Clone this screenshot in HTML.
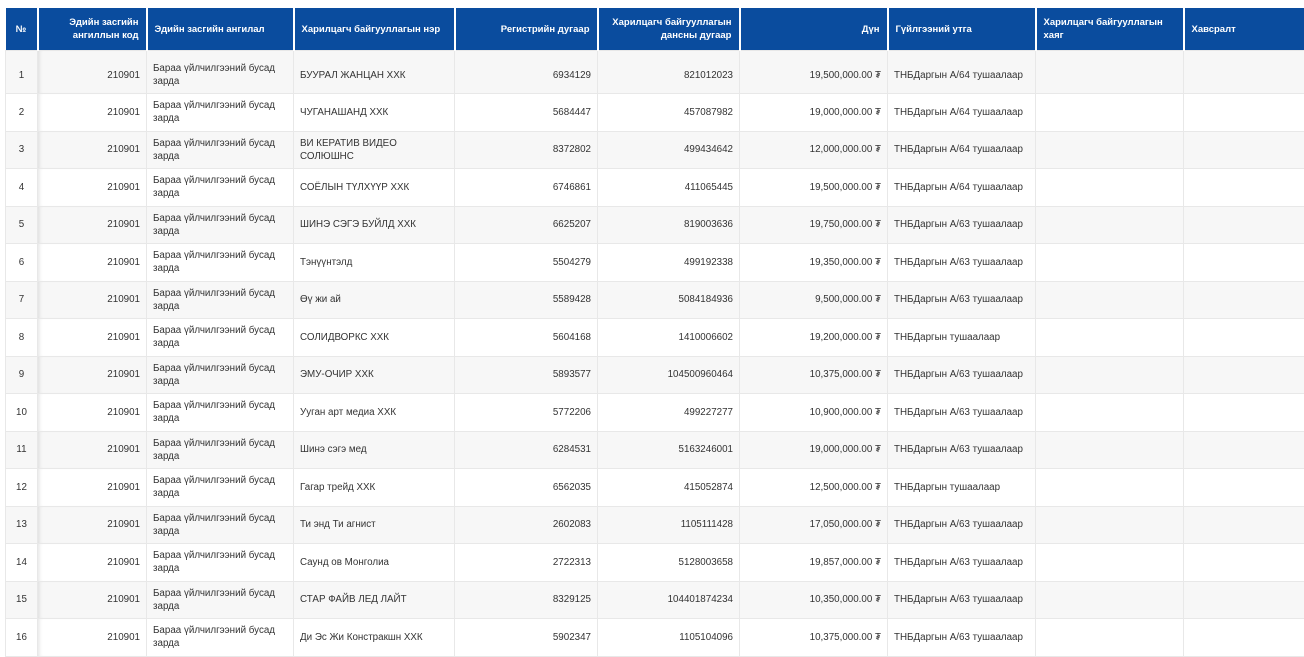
<!DOCTYPE html>
<html><head><meta charset="utf-8"><style>
html,body{margin:0;padding:0;background:#fff;width:1304px;height:642px;overflow:hidden}
table{position:absolute;left:5px;top:8px;border-collapse:collapse;table-layout:fixed;width:1305px;font-family:"Liberation Sans","DejaVu Sans",sans-serif;font-size:9.8px;color:#333}
th{background:#0a4c9e;color:#fff;font-weight:bold;height:42px;padding:0 7px;text-align:left;border-left:2px solid #fff;border-right:2px solid #fff;line-height:13px;font-size:9.5px}
th:first-child{border-left:none;text-align:center}
th.r,td.r{text-align:right}
td{border:1px solid #e8e8e8;padding:0 6px;height:36.5px;line-height:13px;vertical-align:middle}
tr.first td{height:36px;padding-top:6px}
tbody tr:nth-child(odd) td{background:#f7f7f7}
td:first-child{text-align:center;padding:0 4px}
tr.first td:first-child{padding-top:6px}
td:nth-child(2){box-shadow:inset 4px 0 4px -3px rgba(0,0,0,0.12)}
</style></head><body>
<table>
<colgroup><col style="width:32px"><col style="width:109px"><col style="width:147px"><col style="width:161px"><col style="width:143px"><col style="width:142px"><col style="width:148px"><col style="width:148px"><col style="width:148px"><col style="width:127px"></colgroup>
<thead><tr><th>№</th><th class="r">Эдийн засгийн ангиллын код</th><th>Эдийн засгийн ангилал</th><th>Харилцагч байгууллагын нэр</th><th class="r">Регистрийн дугаар</th><th class="r">Харилцагч байгууллагын дансны дугаар</th><th class="r">Дүн</th><th>Гүйлгээний утга</th><th>Харилцагч байгууллагын хаяг</th><th>Хавсралт</th></tr></thead>
<tbody>
<tr class="first"><td>1</td><td class="r">210901</td><td>Бараа үйлчилгээний бусад зарда</td><td>БУУРАЛ ЖАНЦАН ХХК</td><td class="r">6934129</td><td class="r">821012023</td><td class="r">19,500,000.00 ₮</td><td>ТНБДаргын А/64 тушаалаар</td><td></td><td></td></tr>
<tr><td>2</td><td class="r">210901</td><td>Бараа үйлчилгээний бусад зарда</td><td>ЧУГАНАШАНД ХХК</td><td class="r">5684447</td><td class="r">457087982</td><td class="r">19,000,000.00 ₮</td><td>ТНБДаргын А/64 тушаалаар</td><td></td><td></td></tr>
<tr><td>3</td><td class="r">210901</td><td>Бараа үйлчилгээний бусад зарда</td><td>ВИ КЕРАТИВ ВИДЕО СОЛЮШНС</td><td class="r">8372802</td><td class="r">499434642</td><td class="r">12,000,000.00 ₮</td><td>ТНБДаргын А/64 тушаалаар</td><td></td><td></td></tr>
<tr><td>4</td><td class="r">210901</td><td>Бараа үйлчилгээний бусад зарда</td><td>СОЁЛЫН ТҮЛХҮҮР ХХК</td><td class="r">6746861</td><td class="r">411065445</td><td class="r">19,500,000.00 ₮</td><td>ТНБДаргын А/64 тушаалаар</td><td></td><td></td></tr>
<tr><td>5</td><td class="r">210901</td><td>Бараа үйлчилгээний бусад зарда</td><td>ШИНЭ СЭГЭ БУЙЛД ХХК</td><td class="r">6625207</td><td class="r">819003636</td><td class="r">19,750,000.00 ₮</td><td>ТНБДаргын А/63 тушаалаар</td><td></td><td></td></tr>
<tr><td>6</td><td class="r">210901</td><td>Бараа үйлчилгээний бусад зарда</td><td>Тэнүүнтэлд</td><td class="r">5504279</td><td class="r">499192338</td><td class="r">19,350,000.00 ₮</td><td>ТНБДаргын А/63 тушаалаар</td><td></td><td></td></tr>
<tr><td>7</td><td class="r">210901</td><td>Бараа үйлчилгээний бусад зарда</td><td>Өү жи ай</td><td class="r">5589428</td><td class="r">5084184936</td><td class="r">9,500,000.00 ₮</td><td>ТНБДаргын А/63 тушаалаар</td><td></td><td></td></tr>
<tr><td>8</td><td class="r">210901</td><td>Бараа үйлчилгээний бусад зарда</td><td>СОЛИДВОРКС ХХК</td><td class="r">5604168</td><td class="r">1410006602</td><td class="r">19,200,000.00 ₮</td><td>ТНБДаргын тушаалаар</td><td></td><td></td></tr>
<tr><td>9</td><td class="r">210901</td><td>Бараа үйлчилгээний бусад зарда</td><td>ЭМУ-ОЧИР ХХК</td><td class="r">5893577</td><td class="r">104500960464</td><td class="r">10,375,000.00 ₮</td><td>ТНБДаргын А/63 тушаалаар</td><td></td><td></td></tr>
<tr><td>10</td><td class="r">210901</td><td>Бараа үйлчилгээний бусад зарда</td><td>Ууган арт медиа ХХК</td><td class="r">5772206</td><td class="r">499227277</td><td class="r">10,900,000.00 ₮</td><td>ТНБДаргын А/63 тушаалаар</td><td></td><td></td></tr>
<tr><td>11</td><td class="r">210901</td><td>Бараа үйлчилгээний бусад зарда</td><td>Шинэ сэгэ мед</td><td class="r">6284531</td><td class="r">5163246001</td><td class="r">19,000,000.00 ₮</td><td>ТНБДаргын А/63 тушаалаар</td><td></td><td></td></tr>
<tr><td>12</td><td class="r">210901</td><td>Бараа үйлчилгээний бусад зарда</td><td>Гагар трейд ХХК</td><td class="r">6562035</td><td class="r">415052874</td><td class="r">12,500,000.00 ₮</td><td>ТНБДаргын тушаалаар</td><td></td><td></td></tr>
<tr><td>13</td><td class="r">210901</td><td>Бараа үйлчилгээний бусад зарда</td><td>Ти энд Ти агнист</td><td class="r">2602083</td><td class="r">1105111428</td><td class="r">17,050,000.00 ₮</td><td>ТНБДаргын А/63 тушаалаар</td><td></td><td></td></tr>
<tr><td>14</td><td class="r">210901</td><td>Бараа үйлчилгээний бусад зарда</td><td>Саунд ов Монголиа</td><td class="r">2722313</td><td class="r">5128003658</td><td class="r">19,857,000.00 ₮</td><td>ТНБДаргын А/63 тушаалаар</td><td></td><td></td></tr>
<tr><td>15</td><td class="r">210901</td><td>Бараа үйлчилгээний бусад зарда</td><td>СТАР ФАЙВ ЛЕД ЛАЙТ</td><td class="r">8329125</td><td class="r">104401874234</td><td class="r">10,350,000.00 ₮</td><td>ТНБДаргын А/63 тушаалаар</td><td></td><td></td></tr>
<tr><td>16</td><td class="r">210901</td><td>Бараа үйлчилгээний бусад зарда</td><td>Ди Эс Жи Констракшн ХХК</td><td class="r">5902347</td><td class="r">1105104096</td><td class="r">10,375,000.00 ₮</td><td>ТНБДаргын А/63 тушаалаар</td><td></td><td></td></tr>
</tbody></table>
</body></html>
